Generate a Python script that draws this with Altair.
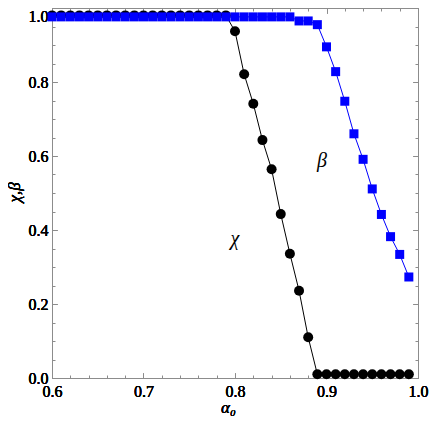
import altair as alt
import pandas as pd

# alpha_0 grid
alpha0 = [0.60, 0.61, 0.62, 0.63, 0.64, 0.65, 0.66, 0.67, 0.68, 0.69,
          0.70, 0.71, 0.72, 0.73, 0.74, 0.75, 0.76, 0.77, 0.78, 0.79,
          0.80, 0.81, 0.82, 0.83, 0.84, 0.85, 0.86, 0.87, 0.88, 0.89,
          0.90, 0.91, 0.92, 0.93, 0.94, 0.95, 0.96, 0.97, 0.98, 0.99]

chi = [0.98] * 20 + [0.937, 0.821, 0.741, 0.643, 0.564, 0.443, 0.336, 0.236, 0.110] + [0.010] * 11

beta = [0.976] * 27 + [0.965, 0.965, 0.955, 0.895, 0.828, 0.748, 0.660, 0.591,
                       0.511, 0.442, 0.382, 0.334, 0.273]

label_text = ["χ", "β"]
label_x = [0.80, 0.895]
label_y = [0.375, 0.587]

x_major = [0.6, 0.7, 0.8, 0.9, 1.0]
x_minor = [0.62, 0.64, 0.66, 0.68, 0.72, 0.74, 0.76, 0.78, 0.82, 0.84, 0.86, 0.88,
           0.92, 0.94, 0.96, 0.98]
y_major = [0.0, 0.2, 0.4, 0.6, 0.8, 1.0]
y_minor = [0.05, 0.1, 0.15, 0.25, 0.3, 0.35, 0.45, 0.5, 0.55, 0.65, 0.7, 0.75,
           0.85, 0.9, 0.95]

W, H = 366, 370
FRAME = "#8c8c8c"
SERIF = "Liberation Serif"

df_chi = pd.DataFrame({"a": alpha0, "v": chi})
df_beta = pd.DataFrame({"a": alpha0, "v": beta})
df_lab = pd.DataFrame({"t": label_text, "a": label_x, "v": label_y})

xscale = alt.Scale(domain=[0.6, 1.0], nice=False, zero=False)
yscale = alt.Scale(domain=[0.0, 1.0], nice=False, zero=False)

x_axis_main = alt.Axis(
    orient="bottom", values=x_major, format=".1f", title="α₀",
    grid=True, gridDash=[5, H - 10, 5, 2000], gridColor=FRAME, gridOpacity=1, gridWidth=1,
    ticks=False, tickSize=0, domain=False, labelFlush=False,
    labelFontSize=16, labelFontWeight="normal", labelColor="black", labelPadding=5,
    titleFontSize=17, titleFontWeight="normal", titleFontStyle="italic",
    titleColor="black", titleX=176, titleY=29, titleBaseline="middle", titleAlign="center",
)
y_axis_main = alt.Axis(
    orient="left", values=y_major, format=".1f", title="χ,β",
    grid=True, gridDash=[5, W - 10, 5, 2000], gridColor=FRAME, gridOpacity=1, gridWidth=1,
    ticks=False, tickSize=0, domain=False, labelFlush=False,
    labelFontSize=16, labelFontWeight="normal", labelColor="black", labelPadding=4,
    labelBaseline={"condition": {"test": "datum.value == 1", "value": "top"}, "value": "middle"},
    titleFontSize=17, titleFontWeight="normal", titleFontStyle="italic",
    titleColor="black", titleX=-38, titleY=184, titleBaseline="middle", titleAlign="center",
    titleAngle=270,
)
x_axis_minor = alt.Axis(
    orient="top", values=x_minor, title=None, labels=False,
    grid=True, gridDash=[3, H - 6, 3, 2000], gridColor=FRAME, gridOpacity=1, gridWidth=1,
    ticks=False, tickSize=0, domain=False,
)
y_axis_minor = alt.Axis(
    orient="right", values=y_minor, title=None, labels=False,
    grid=True, gridDash=[3, W - 6, 3, 2000], gridColor=FRAME, gridOpacity=1, gridWidth=1,
    ticks=False, tickSize=0, domain=False,
)

base_x = alt.X("a:Q", scale=xscale, axis=x_axis_main)
base_y = alt.Y("v:Q", scale=yscale, axis=y_axis_main)

chi_line = alt.Chart(df_chi).mark_line(color="black", strokeWidth=1).encode(x=base_x, y=base_y)
chi_pts = alt.Chart(df_chi).mark_circle(color="black", size=100, opacity=1).encode(x=base_x, y=base_y)
beta_line = alt.Chart(df_beta).mark_line(color="#0000ff", strokeWidth=1).encode(x=base_x, y=base_y)
beta_pts = alt.Chart(df_beta).mark_point(shape="square", filled=True, color="#0000ff",
                                          size=81, opacity=1).encode(x=base_x, y=base_y)

labels = alt.Chart(df_lab).mark_text(fontSize=20, fontStyle="italic",
                                     fontWeight="normal", color="black").encode(
    x=alt.X("a:Q", scale=xscale, axis=x_axis_minor),
    y=alt.Y("v:Q", scale=yscale, axis=y_axis_minor),
    text="t:N",
)

chart = alt.layer(chi_line, chi_pts, beta_line, beta_pts, labels).resolve_axis(
    x="independent", y="independent"
).properties(
    width=W, height=H,
    autosize=alt.AutoSizeParams(type="none"),
    padding={"left": 44, "top": 0, "right": 11, "bottom": 43},
).configure(
    font=SERIF
).configure_axis(
    labelFont=SERIF, titleFont=SERIF
).configure_text(
    font=SERIF
).configure_view(stroke=FRAME, strokeWidth=1)

chart.save("out.html", embed_options={"renderer": "svg", "actions": False})
